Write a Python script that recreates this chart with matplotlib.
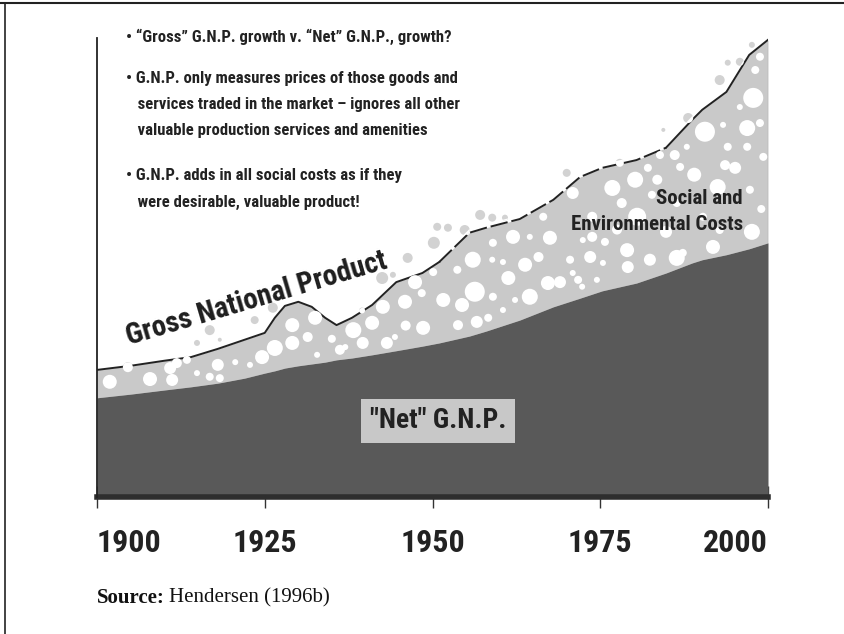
import numpy as np
import matplotlib
matplotlib.use("Agg")
import matplotlib.pyplot as plt
import matplotlib.patches as mpatches
from matplotlib.lines import Line2D
from matplotlib import font_manager as fm

# ---------------- data ----------------
years = [1900, 1905, 1910, 1914, 1918, 1922, 1925, 1926.5, 1928, 1930, 1932, 1934,
         1935.7, 1938, 1941, 1944.6, 1948.5, 1951, 1955.5, 1958, 1963, 1968, 1972,
         1975.3, 1980.4, 1984.8, 1988.7, 1990.2, 1993.8, 1997.2, 2000]
gross_gnp = [27.8, 28.7, 29.8, 30.6, 32.4, 34.4, 35.9, 39.2, 41.8, 42.7, 41.6, 39.2,
             37.6, 39.2, 42.0, 47.0, 49.0, 51.4, 57.8, 58.9, 60.8, 65.0, 70.0,
             72.0, 73.7, 76.4, 82.5, 84.7, 88.6, 96.7, 100.0]
net_gnp = [21.7, 22.5, 23.4, 24.1, 24.9, 26.0, 27.1, 27.6, 28.2, 28.7, 29.1, 29.5,
           30.0, 30.4, 31.1, 32.0, 33.0, 33.7, 35.2, 36.3, 38.7, 41.6, 43.5,
           45.1, 46.8, 49.0, 51.2, 51.9, 53.0, 54.3, 55.6]

tick_years = [1900, 1925, 1950, 1975, 2000]
tick_labels = ["1900", "1925", "1950", "1975", "2000"]

# decorative bubbles (year, level, radius)
bubble_year = [1901.9, 1904.6, 1907.9, 1910.9, 1911.2, 1911.9, 1913.4, 1914.9, 1916.8, 1918.3,
               1918.0, 1920.6, 1922.8, 1924.6, 1926.5, 1929.1, 1929.1, 1931.4, 1932.5, 1932.8,
               1916.8, 1914.9, 1918.3, 1923.5, 1926.2,
               1938.2, 1941.0, 1939.6, 1942.6, 1943.2, 1944.4, 1945.9, 1947.4, 1948.6, 1948.4,
               1950.1, 1951.6, 1953.7, 1954.4, 1953.8, 1956.0, 1956.3, 1956.6, 1959.0, 1958.9,
               1960.5, 1961.3, 1959.0, 1958.3, 1960.5, 1962.0, 1963.8, 1964.5, 1962.3, 1966.5,
               1967.5, 1967.2, 1964.5, 1936.2,
               1942.5, 1944.1, 1946.3, 1950.2, 1950.7, 1952.3, 1954.8, 1957.1, 1958.9, 1960.8,
               1970.9, 1973.8, 1976.8, 1978.2, 1980.2, 1980.5, 1982.7, 1983.5, 1982.1, 1983.9,
               1986.1, 1986.9, 1986.4, 1987.9, 1990.6, 1992.5, 1993.6, 1993.3, 1994.0, 1995.1,
               1996.9, 1996.9, 1997.3, 1997.8, 1998.1, 1998.8, 1998.8, 1999.3, 1995.8, 1990.3,
               1992.8, 1991.8, 1997.6, 1973.8, 1979.0, 1982.4, 1986.4, 1987.3, 1973.5, 1970.5,
               1975.7, 1979.1, 1975.4, 1972.4, 1971.7, 1974.5, 1970.9, 1972.3,
               1992.8, 1994.0, 1995.8, 1997.6, 1988.1, 1984.4, 1977.9, 1970.0,
               1935.0, 1937.0, 1946.0, 1965.8, 1969.0, 1977.5, 1984.8, 1989.0, 1999.0, 1939.5]
bubble_level = [25.2, 28.4, 25.8, 28.2, 25.6, 29.3, 30.0, 27.1, 26.3, 26.0,
                28.9, 29.5, 28.9, 30.6, 32.6, 33.7, 37.6, 35.0, 39.2, 31.1,
                36.5, 33.7, 34.4, 38.7, 41.4,
                36.5, 38.1, 33.7, 41.6, 33.7, 35.0, 42.7, 47.0, 37.0, 44.6,
                49.2, 43.1, 49.7, 42.0, 37.6, 51.9, 44.9, 38.3, 55.6, 51.9,
                51.4, 47.9, 43.8, 39.2, 40.9, 56.9, 50.8, 43.8, 43.1, 61.3,
                56.7, 46.8, 56.9, 32.2,
                47.9, 48.6, 52.3, 55.6, 59.1, 58.9, 58.4, 61.7, 61.1, 61.1,
                66.5, 61.3, 67.6, 64.3, 69.4, 61.3, 66.1, 69.4, 72.0, 74.8,
                74.8, 72.2, 64.3, 76.6, 79.9, 67.8, 72.6, 81.4, 76.6, 72.0,
                80.7, 76.6, 67.2, 87.3, 93.4, 96.3, 81.8, 74.4, 85.3, 61.3,
                58.4, 54.7, 58.0, 56.9, 54.0, 51.9, 52.3, 53.4, 52.5, 51.9,
                55.8, 50.3, 51.2, 56.2, 47.5, 47.5, 49.0, 46.0,
                91.2, 95.0, 95.2, 98.9, 82.9, 80.3, 73.1, 70.9,
                34.6, 32.8, 37.5, 52.5, 47.0, 58.5, 58.0, 70.5, 63.0, 40.8]
bubble_radius = [7, 5, 7, 6, 6, 5, 4, 3, 4, 4,
                 6, 3, 3, 7, 8, 7, 7, 5, 7, 3,
                 5, 3, 2, 4, 5,
                 8, 7, 6, 7, 6, 3, 7, 7, 7, 4,
                 4, 7, 4, 7, 5, 8, 10, 6, 4, 3,
                 3, 7, 4, 4, 3, 7, 7, 8, 3, 4,
                 7, 7, 3, 5,
                 6, 3, 5, 6, 4, 4, 5, 5, 4, 3,
                 6, 5, 8, 5, 8, 9, 4, 5, 4, 4,
                 5, 4, 4, 3, 10, 8, 5, 3, 4, 6,
                 8, 4, 4, 10, 4, 4, 4, 4, 3, 4,
                 4, 7, 8, 5, 7, 6, 8, 4, 6, 4,
                 4, 6, 3, 3, 4, 3, 3, 3,
                 5, 3, 4, 3, 5, 2, 4, 4,
                 4, 3, 5, 5, 6, 5, 6, 7, 4, 3]

bullet_lines = [
    "\u2022 \u201cGross\u201d G.N.P. growth v. \u201cNet\u201d G.N.P., growth?",
    "\u2022 G.N.P. only measures prices of those goods and",
    "   services traded in the market \u2013 ignores all other",
    "   valuable production services and amenities",
    "\u2022 G.N.P. adds in all social costs as if they",
    "   were desirable, valuable product!",
]

# ---------------- fonts ----------------
names = {f.name for f in fm.fontManager.ttflist}
narrow = next((n for n in ["Roboto Condensed", "Barlow Condensed", "Liberation Sans Narrow"]
               if n in names), "DejaVu Sans")
NARROW = [narrow, "DejaVu Sans"]
SERIF = ["Liberation Serif", "DejaVu Serif"]

W, H = 844, 634
fig = plt.figure(figsize=(W / 100, H / 100), dpi=100)
fig.patch.set_facecolor("white")


def fx(px):
    return px / W


def fy(py):
    return 1 - py / H


ax = fig.add_axes([fx(97), fy(497), fx(768) - fx(97), fy(38) - fy(497)])
ax.set_xlim(1900, 2000)
ax.set_ylim(0, 100.4)
ax.set_facecolor("none")

yrs = np.array(years, dtype=float)
gg = np.array(gross_gnp)
ng = np.array(net_gnp)

DARK = "#595959"
LIGHT = "#c9c9c9"
LINE = "#222222"

# gray bubbles (visible only outside the cost band)
bs = (2 * np.array(bubble_radius) * 0.72) ** 2
ax.scatter(bubble_year, bubble_level, s=bs, color="#d2d2d2", linewidths=0, zorder=1)

# social & environmental cost band
ax.fill_between(yrs, ng, gg, color=LIGHT, linewidth=0, zorder=2)

# GNP line: solid ends, dashed middle section
g_solid1 = np.where(yrs <= 1951, gg, np.nan)
g_solid2 = np.where(yrs >= 1984.8, gg, np.nan)
g_dash = np.where((yrs >= 1951) & (yrs <= 1984.8), gg, np.nan)
ax.plot(yrs, g_solid1, color=LINE, lw=1.4, zorder=2.5)
ax.plot(yrs, g_solid2, color=LINE, lw=1.4, zorder=2.5)
ax.plot(yrs, g_dash, color=LINE, lw=1.4, zorder=2.5, dashes=(9, 2))

# white bubbles inside the band
verts = list(zip(yrs, gg + 0.8)) + [(2000, 0), (1900, 0)]
clip = mpatches.Polygon(verts, closed=True, transform=ax.transData)
wb = ax.scatter(bubble_year, bubble_level, s=bs, color="white", linewidths=0, zorder=3)
wb.set_clip_path(clip)

# net GNP
ax.fill_between(yrs, 0, ng, color=DARK, linewidth=0, zorder=4)
ax.plot([2000, 2000], [ng[-1], gg[-1]], color="#666666", lw=0.8, zorder=4)

# baseline
ax.axhline(0, color="#2e2e2e", lw=4, zorder=5, clip_on=False)

# spines / ticks
for s in ["top", "right", "bottom"]:
    ax.spines[s].set_visible(False)
ax.spines["left"].set_color("#222222")
ax.spines["left"].set_linewidth(1.3)
ax.spines["left"].set_zorder(6)
ax.set_yticks([])
ax.set_xticks(tick_years)
ax.set_xticklabels(tick_labels, fontfamily=NARROW, fontweight="bold", fontsize=23,
                   color="#222222")
ax.tick_params(axis="x", direction="inout", length=16, width=1.0, color="#333333", pad=14)
labs = ax.get_xticklabels()
labs[0].set_ha("left")
labs[-1].set_ha("right")

# annotations
fig.text(fx(257), fy(299), "Gross National Product", fontsize=21,
         fontfamily=NARROW, fontweight="bold", color="#1e1e1e", rotation=16.5,
         rotation_mode="anchor", ha="center", va="center", zorder=7)

fig.text(fx(743), fy(198), "Social and", fontsize=15,
         fontfamily=NARROW, fontweight="bold", color="#222222", ha="right", va="center",
         zorder=7)
fig.text(fx(743), fy(224), "Environmental Costs", fontsize=15,
         fontfamily=NARROW, fontweight="bold", color="#222222", ha="right", va="center",
         zorder=7)

fig.text(fx(438), fy(421), "\u2033Net\u2033 G.N.P.", fontsize=20,
         fontfamily=NARROW, fontweight="bold", color="#222222", ha="center", va="center",
         zorder=7,
         bbox=dict(boxstyle="square,pad=0.3", facecolor="#c8c8c8", edgecolor="none"))

line_y = [37, 78, 105, 130, 175, 202]
for txt, yy in zip(bullet_lines, line_y):
    fig.text(fx(126), fy(yy), txt, fontsize=12, fontfamily=NARROW, fontweight="bold",
             color="#222222", ha="left", va="center")

fig.text(fx(97), fy(598), "Source:", fontsize=15, fontfamily=SERIF, fontweight="bold",
         color="#111111", ha="left", va="center")
fig.text(fx(169), fy(598), "Hendersen (1996b)", fontsize=15, fontfamily=SERIF,
         color="#111111", ha="left", va="center")

# frame lines
fig.add_artist(Line2D([0, 1], [fy(3), fy(3)], transform=fig.transFigure, color="#222222", lw=1.5))
fig.add_artist(Line2D([fx(5), fx(5)], [0, fy(3)], transform=fig.transFigure, color="#222222", lw=1.2))

fig.savefig("out.png", dpi=100, facecolor="white")
